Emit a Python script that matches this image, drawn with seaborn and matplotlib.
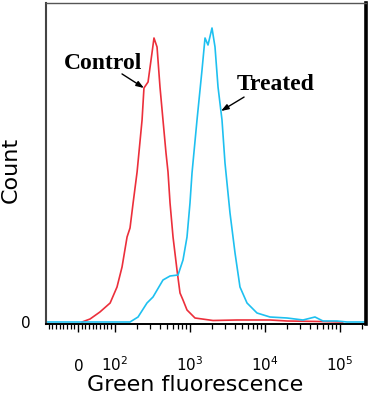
import numpy as np
import pandas as pd
import seaborn as sns
import matplotlib
matplotlib.use("Agg")
import matplotlib.pyplot as plt

# ---- data ----
control_x = [11, 33, 60, 88, 108, 126, 147, 161, 177, 200, 233, 247, 280, 316, 336,
             369, 404, 443, 486, 517, 550, 603, 681, 747, 819, 926, 1184, 2056, 4300,
             11830, 20000, 55000, 111000]
control_y = [0, 3, 10, 19, 35, 55, 85, 94, 119, 150, 202, 234, 240, 269, 284,
             275, 235, 202, 169, 150, 119, 85, 52, 29, 22, 12, 4, 1.5, 2,
             2, 1, 0.5, 0]
treated_x = [-87, 161, 206, 271, 326, 443, 550, 703, 819, 926, 1015, 1080, 1259, 1468,
             1610, 1765, 1995, 2188, 2400, 2712, 2973, 3467, 4045, 4710, 5845, 7943,
             11830, 20000, 32600, 47100, 60200, 92600, 126000, 225000]
treated_y = [0, 0, 5, 19, 25, 42, 46, 47, 62, 85, 119, 149, 202, 252,
             284, 277, 294, 275, 235, 202, 159, 109, 69, 35, 19, 9,
             5, 4, 2, 5, 1, 1, 0, 0]
samples = ["Control", "Treated"]
colors = ["#ec2f3b", "#1ec0f0"]
major_ticks = [0, 100, 1000, 10000, 100000]
major_labels = [r"$\mathregular{0}$", r"$10^{2}$", r"$10^{3}$", r"$10^{4}$", r"$10^{5}$"]

df = pd.concat([
    pd.DataFrame({"fl": control_x, "count": control_y, "sample": "Control"}),
    pd.DataFrame({"fl": treated_x, "count": treated_y, "sample": "Treated"}),
])

sns.set_style("white")
plt.rcParams.update({"text.color": "black", "axes.labelcolor": "black",
                     "xtick.color": "black", "ytick.color": "black"})
fig = plt.figure(figsize=(3.71, 3.95), dpi=100)
ax = fig.add_axes([46 / 371, 1 - 324 / 395, 320 / 371, 321 / 395])

sns.lineplot(data=df, x="fl", y="count", hue="sample", hue_order=samples,
             palette=dict(zip(samples, colors)), estimator=None, sort=False,
             linewidth=1.2, legend=False, ax=ax)

ax.set_xscale("symlog", linthresh=100, linscale=0.438, base=10)
ax.set_xlim(-87.7, 225600)
ax.set_ylim(-2, 319)

minor = [v for v in range(-80, 100, 10) if v != 0]
for n in range(2, 6):
    for k in range(2, 10):
        v = k * 10 ** n
        if v <= 225600:
            minor.append(v)
ax.set_xticks(major_ticks)
ax.set_xticklabels(major_labels)
ax.set_xticks(minor, minor=True)
ax.tick_params(axis="x", which="major", direction="out", length=6, width=1.0,
               color="black", labelcolor="black", labelsize=11, pad=28, bottom=True)
ax.tick_params(axis="x", which="minor", direction="out", length=3.5, width=0.9,
               color="black", bottom=True)
for lbl in ax.get_xticklabels():
    lbl.set_verticalalignment("baseline")

ax.set_yticks([0])
ax.set_yticklabels(["0"])
ax.tick_params(axis="y", length=0, labelsize=11, pad=11, labelcolor="black")

for side, lw, col in [("left", 1.5, "#444444"), ("top", 1.0, "#555555"),
                      ("right", 2.6, "black"), ("bottom", 1.4, "black")]:
    ax.spines[side].set_visible(True)
    ax.spines[side].set_linewidth(lw)
    ax.spines[side].set_color(col)

ax.set_xlabel("Green fluorescence", fontsize=16, family="DejaVu Sans", color="black")
ax.set_ylabel("Count", fontsize=16, family="DejaVu Sans", color="black")
ax.xaxis.set_label_coords(0.466, -0.159)
ax.yaxis.set_label_coords(-0.078, 0.48)

# annotation labels
ax.text(0.178, 0.81, "Control", transform=ax.transAxes, ha="center", va="center",
        fontsize=17, fontweight="bold", family="Liberation Serif", color="black")
ax.text(0.719, 0.745, "Treated", transform=ax.transAxes, ha="center", va="center",
        fontsize=17, fontweight="bold", family="Liberation Serif", color="black")
arrow = dict(arrowstyle="-|>,head_length=0.45,head_width=0.16", color="black",
             lw=1.0, shrinkA=0, shrinkB=0)
ax.annotate("", xy=(247, 234), xycoords="data",
            xytext=(0.2375, 0.779), textcoords="axes fraction", arrowprops=arrow)
ax.annotate("", xy=(2630, 211), xycoords="data",
            xytext=(0.619, 0.707), textcoords="axes fraction", arrowprops=arrow)

fig.savefig("out.png", dpi=100)
